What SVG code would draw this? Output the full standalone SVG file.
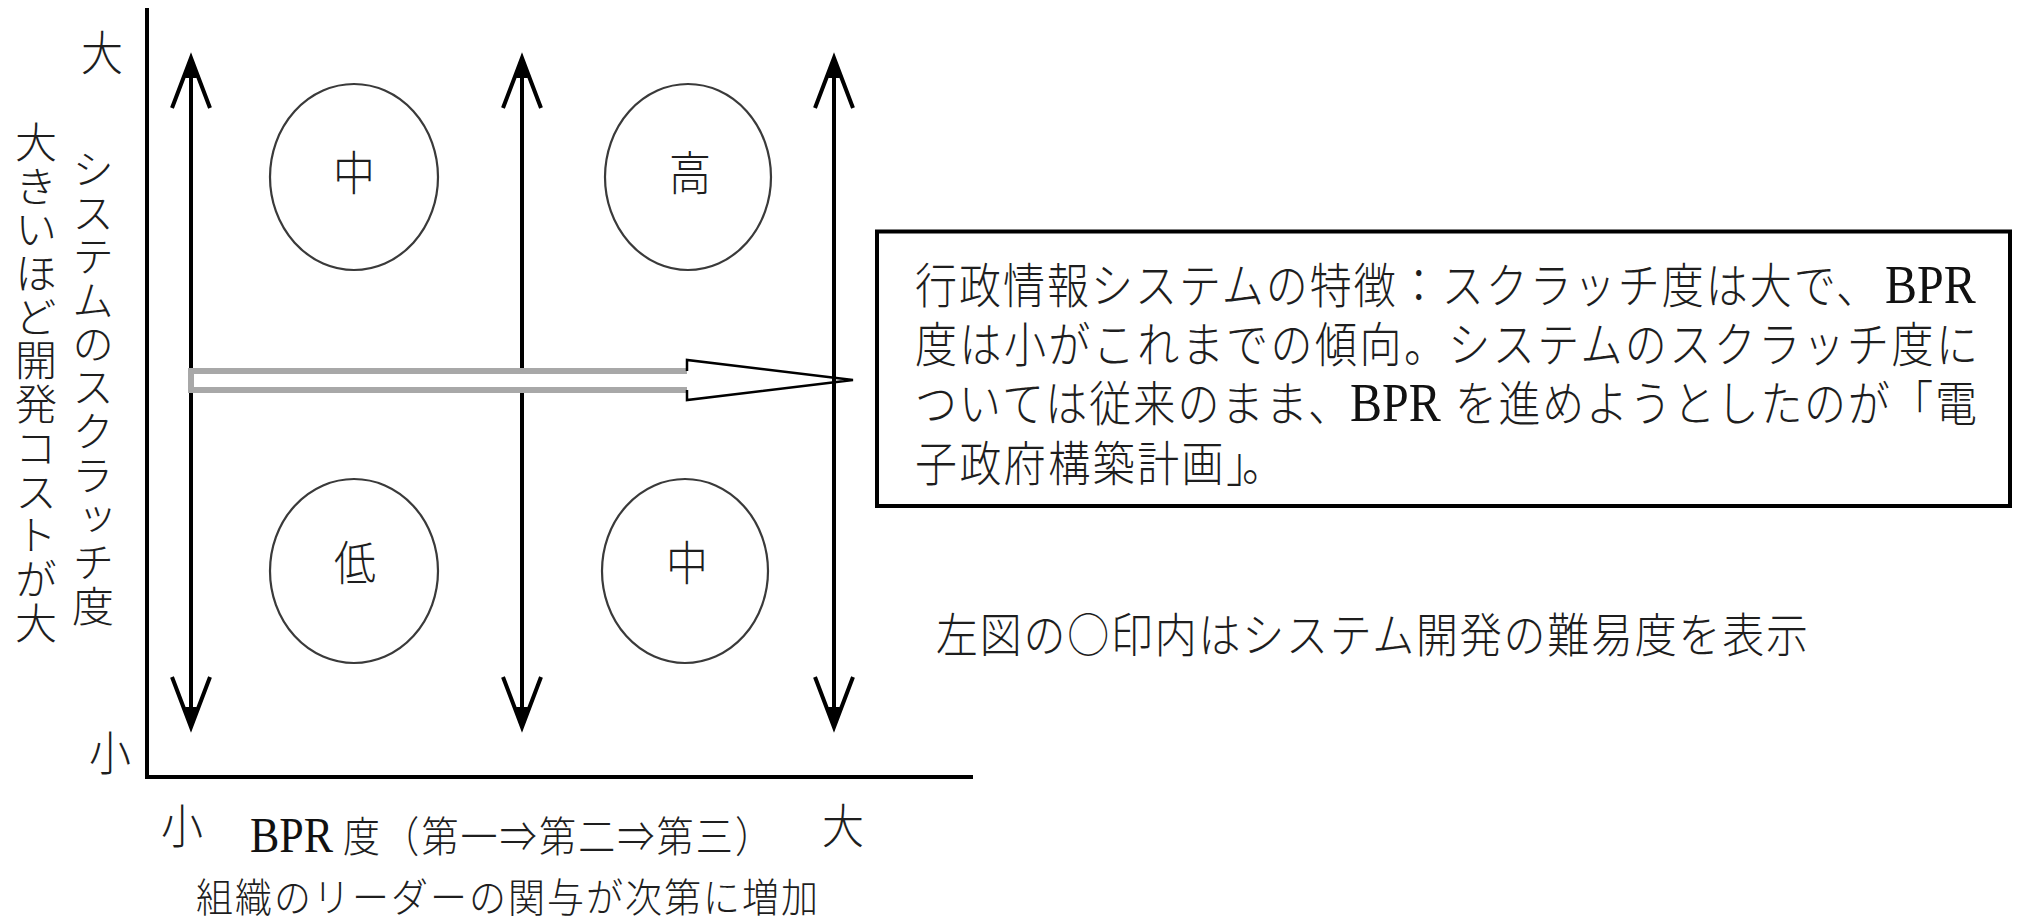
<svg xmlns="http://www.w3.org/2000/svg" width="2022" height="920" viewBox="0 0 2022 920">
<defs>
<style>
.jp{font-family:"Noto Sans CJK JP","Noto Sans CJK SC",sans-serif;font-weight:300;fill:#1e1e1e;}
.lat{font-family:"Liberation Serif","Times New Roman",serif;fill:#111;}
.ax{stroke:#000;stroke-width:4;fill:none;}
.ring{fill:none;stroke:#3a3a3a;stroke-width:2.2;}
.varrow{stroke:#000;stroke-width:4;fill:none;marker-start:url(#ah);marker-end:url(#ah);}
.vt{writing-mode:vertical-rl;}
</style>
<marker id="ah" markerUnits="userSpaceOnUse" viewBox="-60 -25 70 50" refX="0" refY="0" markerWidth="70" markerHeight="50" orient="auto-start-reverse" overflow="visible">
<path d="M-50,-19 L0,0 L-50,19" fill="none" stroke="#000" stroke-width="4"/>
<path d="M-20,-6 L4,0 L-20,6 Z" fill="#000"/>
</marker>
</defs>
<rect width="2022" height="920" fill="#fff"/>

<g id="axes">
<path class="ax" d="M147,8 V777 H973"/>
</g>

<g id="axis-labels">
<text class="jp" font-size="42" text-anchor="middle" transform="translate(102,70) scale(1,1.12)">大</text>
<text class="jp" font-size="42" text-anchor="middle" transform="translate(110,770) scale(1,1.12)">小</text>
<text class="jp" font-size="42" text-anchor="middle" transform="translate(182,843) scale(1,1.12)">小</text>
<text class="jp" font-size="42" text-anchor="middle" transform="translate(843,843) scale(1,1.12)">大</text>
<text class="jp vt" x="36" y="121" font-size="42" style="letter-spacing:1.7px">大きいほど開発コストが大</text>
<text class="jp vt" x="93" y="148" font-size="42" style="letter-spacing:1.7px">システムのスクラッチ度</text>
<g transform="translate(250,852) scale(1,1.15)">
<text class="lat" x="0" y="0" font-size="44">BPR</text>
<text class="jp" x="93" y="0" font-size="37" textLength="429" lengthAdjust="spacing">度（第一⇒第二⇒第三）</text>
</g>
<text class="jp" font-size="37" textLength="622" lengthAdjust="spacing" transform="translate(196,912) scale(1,1.08)">組織のリーダーの関与が次第に増加</text>
</g>

<g id="connectors">
<path class="varrow" d="M191,58 V727"/>
<path class="varrow" d="M522,58 V727"/>
<g id="main-arrow">
<path d="M191,371 L687,371 L687,360 L853,380 L687,400 L687,390 L191,390 Z" fill="#fff"/>
<path d="M687,371 L191,371 L191,390 L687,390" fill="none" stroke="#a8a8a8" stroke-width="6"/>
<path d="M687,371 L687,360 L853,380 L687,400 L687,390" fill="none" stroke="#000" stroke-width="2.5"/>
</g>
<path class="varrow" d="M834,58 V727"/>
</g>

<g id="node-tl">
<ellipse class="ring" cx="354" cy="177" rx="84" ry="93"/>
<text class="jp" font-size="42" text-anchor="middle" transform="translate(354,190) scale(1,1.12)">中</text>
</g>
<g id="node-tr">
<ellipse class="ring" cx="688" cy="177" rx="83" ry="93"/>
<text class="jp" font-size="42" text-anchor="middle" transform="translate(690,190) scale(1,1.12)">高</text>
</g>
<g id="node-bl">
<ellipse class="ring" cx="354" cy="571" rx="84" ry="92"/>
<text class="jp" font-size="42" text-anchor="middle" transform="translate(355,580) scale(1,1.12)">低</text>
</g>
<g id="node-br">
<ellipse class="ring" cx="685" cy="571" rx="83" ry="92"/>
<text class="jp" font-size="42" text-anchor="middle" transform="translate(687,580) scale(1,1.12)">中</text>
</g>

<g id="note">
<rect x="877" y="231.5" width="1133" height="274.5" fill="none" stroke="#000" stroke-width="4"/>
<g transform="translate(915,303) scale(1,1.15)">
<text class="jp" x="0" y="0" font-size="42" textLength="963" lengthAdjust="spacing">行政情報システムの特徴：スクラッチ度は大で、</text>
<text class="lat" x="970" y="0" font-size="48">BPR</text>
</g>
<g transform="translate(915,362) scale(1,1.15)">
<text class="jp" x="0" y="0" font-size="42" textLength="1063" lengthAdjust="spacing">度は小がこれまでの傾向。システムのスクラッチ度に</text>
</g>
<g transform="translate(915,421) scale(1,1.15)">
<text class="jp" x="0" y="0" font-size="42" textLength="435" lengthAdjust="spacing">ついては従来のまま、</text>
<text class="lat" x="435" y="0" font-size="48">BPR</text>
<text class="jp" x="540" y="0" font-size="42" textLength="522" lengthAdjust="spacing">を進めようとしたのが「電</text>
</g>
<g transform="translate(915,481) scale(1,1.15)">
<text class="jp" x="0" y="0" font-size="42" textLength="353" lengthAdjust="spacing">子政府構築計画」</text>
<text class="jp" x="327" y="0" font-size="42">。</text>
</g>
</g>

<g id="legend">
<text class="jp" font-size="42" textLength="872" lengthAdjust="spacing" transform="translate(936,652) scale(1,1.12)">左図の○印内はシステム開発の難易度を表示</text>
</g>
</svg>
